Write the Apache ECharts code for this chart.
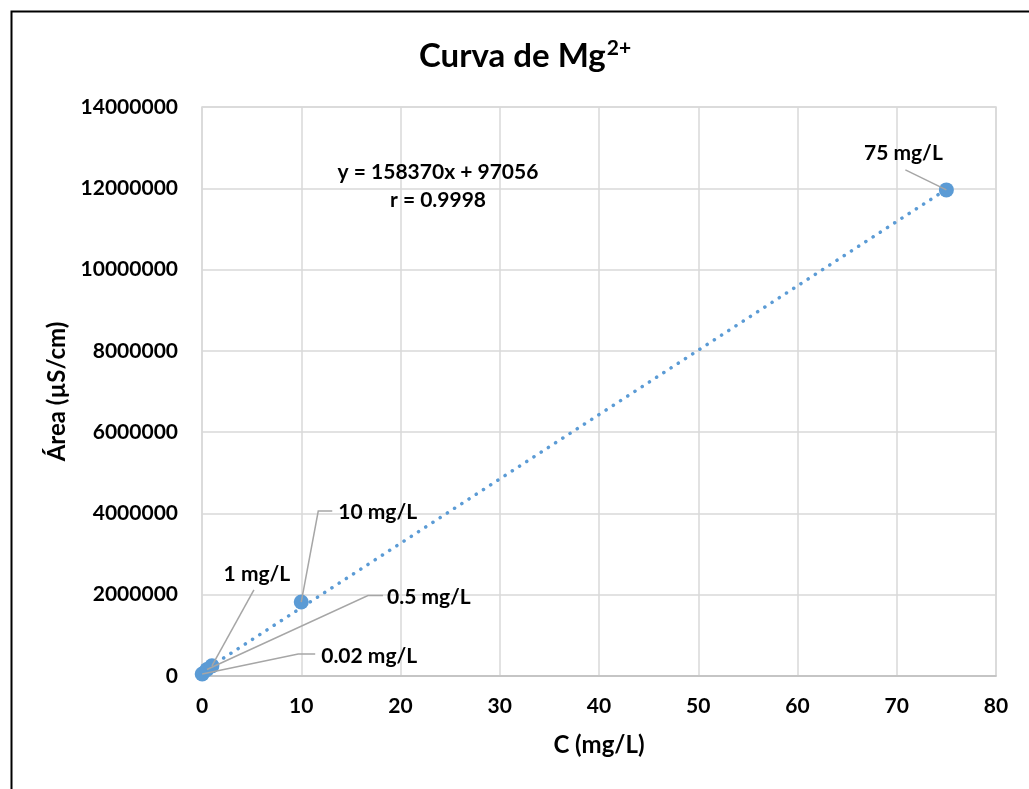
<!DOCTYPE html>
<html>
<head>
<meta charset="utf-8">
<script src="https://cdn.jsdelivr.net/npm/echarts@6/dist/echarts.min.js"></script>
<style>
  html, body { margin: 0; padding: 0; background: #fff; }
  #chart { width: 1029px; height: 789px; }
</style>
</head>
<body>
<div id="chart"></div>
<script>
// Calibration standards: concentration (mg/L) and peak area (µS/cm)
const concentrations = [0.02, 0.5, 1, 10, 75];
const areas = [50000, 160000, 250000, 1820000, 11960000];
const pointLabels = ['0.02 mg/L', '0.5 mg/L', '1 mg/L', '10 mg/L', '75 mg/L'];

// Linear fit reported on the chart
const slope = 158370;
const intercept = 97056;
const rValue = '0.9998';
const fitRange = [0, 75];

// Axis ticks
const xTicks = [0, 10, 20, 30, 40, 50, 60, 70, 80];
const yTicks = [0, 2000000, 4000000, 6000000, 8000000, 10000000, 12000000, 14000000];

// Label placement relative to each point (pixels): text anchor, alignment,
// and the leader line's end (edge) and optional horizontal elbow length
const labelPlacement = [
  { dx: 119, dy: -18, align: 'left', ex: 113, ey: -20, elbow: 17 },
  { dx: 180, dy: -72, align: 'left', ex: 176, ey: -74, elbow: 15 },
  { dx: 45, dy: -92, align: 'center', ex: 42, ey: -76, elbow: 0 },
  { dx: 37, dy: -90, align: 'left', ex: 31, ey: -91, elbow: 14 },
  { dx: -43, dy: -37, align: 'center', ex: -41, ey: -20, elbow: 0 }
];

const FONT = 'Lato, "Open Sans", sans-serif';
const BLUE = '#5B9BD5';
const LEADER = '#a6a6a6';

const chart = echarts.init(document.getElementById('chart'), null, { renderer: 'canvas' });

const points = concentrations.map((c, i) => [c, areas[i]]);
const fitLine = fitRange.map(x => [x, slope * x + intercept]);

// Data labels with leader lines, positioned from each point's pixel coordinate
function renderLabel(params, api) {
  const i = params.dataIndex;
  const p = api.coord([api.value(0), api.value(1)]);
  const o = labelPlacement[i];
  const edge = [p[0] + o.ex, p[1] + o.ey];
  const pts = [p];
  if (o.elbow > 0) pts.push([edge[0] - o.elbow, edge[1]]);
  pts.push(edge);
  return {
    type: 'group',
    children: [
      {
        type: 'polyline',
        shape: { points: pts },
        style: { stroke: LEADER, lineWidth: 1.5, fill: null }
      },
      {
        type: 'text',
        x: p[0] + o.dx,
        y: p[1] + o.dy,
        style: {
          text: pointLabels[i],
          align: o.align,
          verticalAlign: 'middle',
          font: 'bold 21px ' + FONT,
          fill: '#000'
        }
      }
    ]
  };
}

const option = {
  animation: false,
  backgroundColor: '#fff',
  title: {
    text: 'Curva de Mg{sup|2+}',
    left: 414,
    top: 33,
    textStyle: {
      fontFamily: FONT,
      fontWeight: 'bold',
      fontSize: 33,
      color: '#000',
      rich: {
        sup: { fontFamily: FONT, fontWeight: 'bold', fontSize: 21, color: '#000', verticalAlign: 'top', padding: [0, 0, 16, 1] }
      }
    }
  },
  grid: { left: 202, right: 33, top: 107, bottom: 113, show: true, borderColor: '#d9d9d9', borderWidth: 1.5 },
  xAxis: {
    type: 'value',
    min: xTicks[0],
    max: xTicks[xTicks.length - 1],
    interval: xTicks[1] - xTicks[0],
    name: 'C (mg/L)',
    nameLocation: 'middle',
    nameGap: 57,
    nameTextStyle: { fontFamily: FONT, fontWeight: 'bold', fontSize: 24, color: '#000' },
    axisLine: { show: true, lineStyle: { color: '#bfbfbf', width: 1.5 } },
    axisTick: { show: false },
    axisLabel: { fontFamily: FONT, fontWeight: 'bold', fontSize: 21, color: '#000', margin: 20 },
    splitLine: { show: true, lineStyle: { color: '#d9d9d9', width: 1.5 } }
  },
  yAxis: {
    type: 'value',
    min: yTicks[0],
    max: yTicks[yTicks.length - 1],
    interval: yTicks[1] - yTicks[0],
    name: 'Área (µS/cm)',
    nameLocation: 'middle',
    nameRotate: 90,
    nameGap: 124,
    nameTextStyle: { fontFamily: FONT, fontWeight: 'bold', fontSize: 24, color: '#000' },
    axisLine: { show: false },
    axisTick: { show: false },
    axisLabel: { fontFamily: FONT, fontWeight: 'bold', fontSize: 21, color: '#000', margin: 24, formatter: v => String(v) },
    splitLine: { show: true, lineStyle: { color: '#d9d9d9', width: 1.5 } }
  },
  series: [
    {
      type: 'line',
      name: 'Lineal',
      data: fitLine,
      showSymbol: false,
      symbol: 'none',
      z: 2,
      lineStyle: { color: BLUE, width: 3.5, type: [0.1, 8.5], cap: 'round' },
      silent: true
    },
    {
      type: 'scatter',
      name: 'Mg',
      data: points,
      symbol: 'circle',
      symbolSize: 15,
      z: 3,
      itemStyle: { color: BLUE, opacity: 1 }
    },
    {
      type: 'custom',
      name: 'Etiquetas',
      data: points,
      renderItem: renderLabel,
      z: 4,
      silent: true
    }
  ],
  graphic: [
    {
      type: 'rect',
      left: 9,
      top: 9,
      shape: { width: 1100, height: 900 },
      style: { fill: 'none', stroke: '#000', lineWidth: 2 },
      z: -1,
      silent: true
    },
    {
      type: 'text',
      x: 438, y: 172,
      style: {
        text: 'y = ' + slope + 'x + ' + intercept,
        align: 'center', verticalAlign: 'middle',
        font: 'bold 21px ' + FONT, fill: '#000'
      },
      z: 10
    },
    {
      type: 'text',
      x: 438, y: 200,
      style: {
        text: 'r = ' + rValue,
        align: 'center', verticalAlign: 'middle',
        font: 'bold 21px ' + FONT, fill: '#000'
      },
      z: 10
    }
  ]
};

chart.setOption(option);
</script>
</body>
</html>
